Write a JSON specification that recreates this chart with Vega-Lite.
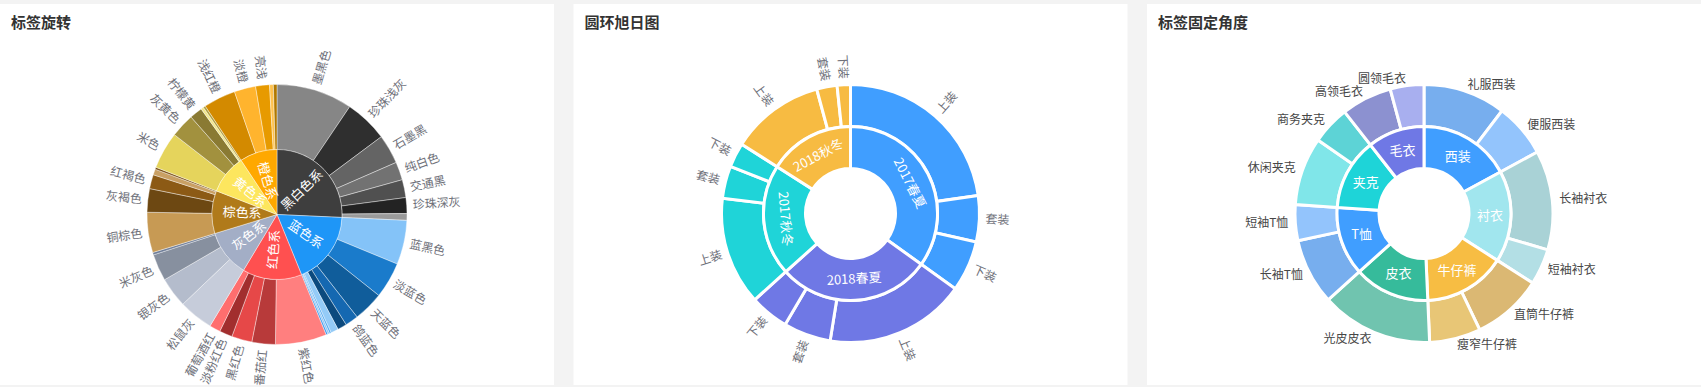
{
  "$schema": "https://vega.github.io/schema/vega-lite/v6.json",
  "background": "#f3f3f3",
  "padding": {"left": 0, "top": 4, "right": 0, "bottom": 0},
  "spacing": 19.5,
  "config": {
    "view": {"fill": "#ffffff", "stroke": null},
    "font": "Noto Sans CJK SC",
    "title": {"anchor": "start", "frame": "group", "offset": -27, "dx": 11, "fontSize": 15, "fontWeight": "bold", "color": "#333333"}
  },
  "resolve": {"scale": {"color": "independent", "theta": "independent"}},
  "datasets": {
    "c1": [
      {"i": 1, "p": "黑白色系", "n": "墨黑色", "v": 34, "k": "a1"},
      {"i": 2, "p": "黑白色系", "n": "珍珠浅灰", "v": 19.3, "k": "a2"},
      {"i": 3, "p": "黑白色系", "n": "石墨黑", "v": 13.1, "k": "a3"},
      {"i": 4, "p": "黑白色系", "n": "纯白色", "v": 8.1, "k": "a4"},
      {"i": 5, "p": "黑白色系", "n": "交通黑", "v": 8.0, "k": "a5"},
      {"i": 6, "p": "黑白色系", "n": "珍珠深灰", "v": 7.1, "k": "a6"},
      {"i": 7, "p": "黑白色系", "n": "", "v": 3.0, "k": "a7"},
      {"i": 8, "p": "蓝色系", "n": "蓝黑色", "v": 19.8, "k": "a8"},
      {"i": 9, "p": "蓝色系", "n": "淡蓝色", "v": 16.1, "k": "a9"},
      {"i": 10, "p": "蓝色系", "n": "天蓝色", "v": 13.5, "k": "a10"},
      {"i": 11, "p": "蓝色系", "n": "鸽蓝色", "v": 5.9, "k": "a11"},
      {"i": 12, "p": "蓝色系", "n": "", "v": 4.1, "k": "a12"},
      {"i": 13, "p": "蓝色系", "n": "", "v": 3.4, "k": "a13"},
      {"i": 14, "p": "蓝色系", "n": "", "v": 0.8, "k": "a14"},
      {"i": 15, "p": "蓝色系", "n": "", "v": 0.8, "k": "a15"},
      {"i": 16, "p": "蓝色系", "n": "", "v": 0.8, "k": "a16"},
      {"i": 17, "p": "红色系", "n": "紫红色", "v": 22.9, "k": "a17"},
      {"i": 18, "p": "红色系", "n": "番茄红", "v": 10.5, "k": "a18"},
      {"i": 19, "p": "红色系", "n": "黑红色", "v": 9.1, "k": "a19"},
      {"i": 20, "p": "红色系", "n": "淡粉红色", "v": 5.8, "k": "a20"},
      {"i": 21, "p": "红色系", "n": "葡萄酒红", "v": 4.9, "k": "a21"},
      {"i": 22, "p": "灰色系", "n": "松鼠灰", "v": 15.4, "k": "a22"},
      {"i": 23, "p": "灰色系", "n": "银灰色", "v": 13.5, "k": "a23"},
      {"i": 24, "p": "灰色系", "n": "米灰色", "v": 12.0, "k": "a24"},
      {"i": 25, "p": "灰色系", "n": "", "v": 1.1, "k": "a25"},
      {"i": 26, "p": "棕色系", "n": "铜棕色", "v": 18.0, "k": "a26"},
      {"i": 27, "p": "棕色系", "n": "灰褐色", "v": 10.5, "k": "a27"},
      {"i": 28, "p": "棕色系", "n": "红褐色", "v": 6.3, "k": "a28"},
      {"i": 29, "p": "棕色系", "n": "", "v": 2.6, "k": "a29"},
      {"i": 30, "p": "棕色系", "n": "", "v": 0.9, "k": "a30"},
      {"i": 31, "p": "黄色系", "n": "米色", "v": 16.6, "k": "a31"},
      {"i": 32, "p": "黄色系", "n": "灰黄色", "v": 10.7, "k": "a32"},
      {"i": 33, "p": "黄色系", "n": "柠檬黄", "v": 5.7, "k": "a33"},
      {"i": 34, "p": "黄色系", "n": "", "v": 1.2, "k": "a34"},
      {"i": 35, "p": "黄色系", "n": "", "v": 1.0, "k": "a35"},
      {"i": 36, "p": "橙色系", "n": "浅红橙", "v": 14.4, "k": "a36"},
      {"i": 37, "p": "橙色系", "n": "淡橙", "v": 9.6, "k": "a37"},
      {"i": 38, "p": "橙色系", "n": "亮浅", "v": 6.2, "k": "a38"},
      {"i": 39, "p": "橙色系", "n": "", "v": 1.7, "k": "a39"},
      {"i": 40, "p": "橙色系", "n": "", "v": 1.6, "k": "a40"}
    ],
    "c2": [
      {"i": 1, "p": "2017春夏", "n": "上装", "v": 82.0},
      {"i": 2, "p": "2017春夏", "n": "套装", "v": 20.8},
      {"i": 3, "p": "2017春夏", "n": "下装", "v": 22.9},
      {"i": 4, "p": "2018春夏", "n": "上装", "v": 63.4},
      {"i": 5, "p": "2018春夏", "n": "套装", "v": 21.4},
      {"i": 6, "p": "2018春夏", "n": "下装", "v": 17.5},
      {"i": 7, "p": "2017秋冬", "n": "上装", "v": 48.8},
      {"i": 8, "p": "2017秋冬", "n": "套装", "v": 14.6},
      {"i": 9, "p": "2017秋冬", "n": "下装", "v": 11.1},
      {"i": 10, "p": "2018秋冬", "n": "上装", "v": 42.3},
      {"i": 11, "p": "2018秋冬", "n": "套装", "v": 9.2},
      {"i": 12, "p": "2018秋冬", "n": "下装", "v": 6.0}
    ],
    "c3": [
      {"i": 1, "p": "西装", "n": "礼服西装", "v": 37.2},
      {"i": 2, "p": "西装", "n": "便服西装", "v": 24.3},
      {"i": 3, "p": "衬衣", "n": "长袖衬衣", "v": 44.9},
      {"i": 4, "p": "衬衣", "n": "短袖衬衣", "v": 16.2},
      {"i": 5, "p": "牛仔裤", "n": "直筒牛仔裤", "v": 31.8},
      {"i": 6, "p": "牛仔裤", "n": "瘦窄牛仔裤", "v": 23.1},
      {"i": 7, "p": "皮衣", "n": "光皮皮衣", "v": 50.5},
      {"i": 8, "p": "T恤", "n": "长袖T恤", "v": 29.8},
      {"i": 9, "p": "T恤", "n": "短袖T恤", "v": 16.2},
      {"i": 10, "p": "夹克", "n": "休闲夹克", "v": 30.7},
      {"i": 11, "p": "夹克", "n": "商务夹克", "v": 17.3},
      {"i": 12, "p": "毛衣", "n": "高领毛衣", "v": 22.8},
      {"i": 13, "p": "毛衣", "n": "圆领毛衣", "v": 15.2}
    ]
  },
  "hconcat": [
    {
      "width": 554, "height": 381,
      "view": {"fill": "#ffffff", "stroke": null},
      "title": "标签旋转",
      "data": {"name": "c1"},
      "transform": [
        {"window": [{"op": "sum", "field": "v", "as": "cum"}], "sort": [{"field": "i"}]},
        {"joinaggregate": [{"op": "sum", "field": "v", "as": "tot"}]},
        {"calculate": "(datum.cum - datum.v) / datum.tot * 360", "as": "t0"},
        {"calculate": "datum.cum / datum.tot * 360", "as": "t1"},
        {"calculate": "(datum.t0 + datum.t1) / 2", "as": "mid"}
      ],
      "layer": [
        {
          "mark": {"type": "arc", "innerRadius": 65, "outerRadius": 130, "stroke": "#ffffff", "strokeWidth": 0.4, "y": {"expr": "height/2 + 20"}},
          "encoding": {
            "theta": {"field": "t0", "type": "quantitative", "stack": null, "scale": {"domain": [0, 360]}},
            "theta2": {"field": "t1"},
            "color": {
              "field": "k", "type": "nominal", "legend": null,
              "scale": {
                "domain": ["a1","a2","a3","a4","a5","a6","a7","a8","a9","a10","a11","a12","a13","a14","a15","a16","a17","a18","a19","a20","a21","a22","a23","a24","a25","a26","a27","a28","a29","a30","a31","a32","a33","a34","a35","a36","a37","a38","a39","a40","黑白色系","蓝色系","红色系","灰色系","棕色系","黄色系","橙色系"],
                "range": ["#868686","#2f2f2f","#646464","#727272","#505050","#232323","#9a9a9a","#84c3f8","#1a7bcb","#105d9b","#1568b1","#0c4a7e","#94cbf7","#4fa8f0","#8ac4f5","#3a9bf0","#ff7f7f","#b83a3a","#e64848","#a22e2e","#ff6e6e","#c6ccda","#b4bccc","#87909f","#6f7e99","#c79a54","#6d4812","#8c5a15","#c9a064","#7b5115","#e5d45c","#a2913e","#8a7a33","#f2e68c","#b0a040","#d38a00","#ffb42e","#e79a00","#ffc24e","#b07800","#3e3e3e","#1e96f7","#ff5050","#a3aec6","#b07a1a","#fde65e","#ffa800"]
              }
            }
          }
        },
        {
          "transform": [
            {"aggregate": [{"op": "min", "field": "t0", "as": "t0"}, {"op": "max", "field": "t1", "as": "t1"}], "groupby": ["p"]}
          ],
          "mark": {"type": "arc", "innerRadius": 0, "outerRadius": 65, "stroke": "#ffffff", "strokeWidth": 0.4, "y": {"expr": "height/2 + 20"}},
          "encoding": {
            "theta": {"field": "t0", "type": "quantitative", "stack": null, "scale": {"domain": [0, 360]}},
            "theta2": {"field": "t1"},
            "color": {"field": "p", "type": "nominal", "legend": null}
          }
        },
        {
          "transform": [
            {"calculate": "datum.mid < 180 ? datum.mid - 90 : datum.mid + 90", "as": "ang"}
          ],
          "mark": {"type": "text", "radius": 136, "baseline": "middle", "fontSize": 12, "fill": "#6e7079", "align": {"expr": "datum.mid < 180 ? 'left' : 'right'"}, "y": {"expr": "height/2 + 20"}},
          "encoding": {
            "theta": {"field": "mid", "type": "quantitative", "stack": null, "scale": {"domain": [0, 360]}},
            "angle": {"field": "ang", "type": "quantitative", "scale": null},
            "text": {"field": "n"}
          }
        },
        {
          "transform": [
            {"aggregate": [{"op": "min", "field": "t0", "as": "t0"}, {"op": "max", "field": "t1", "as": "t1"}], "groupby": ["p"]},
            {"calculate": "(datum.t0 + datum.t1) / 2", "as": "mid"},
            {"calculate": "datum.mid < 180 ? datum.mid - 90 : datum.mid + 90", "as": "ang"}
          ],
          "mark": {"type": "text", "radius": 35, "align": "center", "baseline": "middle", "fontSize": 13, "fill": "#ffffff", "y": {"expr": "height/2 + 20"}},
          "encoding": {
            "theta": {"field": "mid", "type": "quantitative", "stack": null, "scale": {"domain": [0, 360]}},
            "angle": {"field": "ang", "type": "quantitative", "scale": null},
            "text": {"field": "p"}
          }
        }
      ]
    },
    {
      "width": 554, "height": 381,
      "view": {"fill": "#ffffff", "stroke": null},
      "title": "圆环旭日图",
      "data": {"name": "c2"},
      "transform": [
        {"window": [{"op": "sum", "field": "v", "as": "cum"}], "sort": [{"field": "i"}]},
        {"joinaggregate": [{"op": "sum", "field": "v", "as": "tot"}]},
        {"calculate": "(datum.cum - datum.v) / datum.tot * 360", "as": "t0"},
        {"calculate": "datum.cum / datum.tot * 360", "as": "t1"},
        {"calculate": "(datum.t0 + datum.t1) / 2", "as": "mid"}
      ],
      "layer": [
        {
          "mark": {"type": "arc", "innerRadius": 87, "outerRadius": 129, "stroke": "#ffffff", "strokeWidth": 3, "y": {"expr": "height/2 + 19"}},
          "encoding": {
            "theta": {"field": "t0", "type": "quantitative", "stack": null, "scale": {"domain": [0, 360]}},
            "theta2": {"field": "t1"},
            "color": {
              "field": "p", "type": "nominal", "legend": null,
              "scale": {"domain": ["2017春夏", "2018春夏", "2017秋冬", "2018秋冬"], "range": ["#409eff", "#6f78e5", "#1fd4d8", "#f7bb42"]}
            }
          }
        },
        {
          "transform": [
            {"aggregate": [{"op": "min", "field": "t0", "as": "t0"}, {"op": "max", "field": "t1", "as": "t1"}], "groupby": ["p"]}
          ],
          "mark": {"type": "arc", "innerRadius": 45, "outerRadius": 87, "stroke": "#ffffff", "strokeWidth": 3, "y": {"expr": "height/2 + 19"}},
          "encoding": {
            "theta": {"field": "t0", "type": "quantitative", "stack": null, "scale": {"domain": [0, 360]}},
            "theta2": {"field": "t1"},
            "color": {"field": "p", "type": "nominal", "legend": null}
          }
        },
        {
          "transform": [
            {"calculate": "datum.mid < 180 ? datum.mid - 90 : datum.mid + 90", "as": "ang"}
          ],
          "mark": {"type": "text", "radius": 135, "baseline": "middle", "fontSize": 12, "fill": "#6e7079", "align": {"expr": "datum.mid < 180 ? 'left' : 'right'"}, "y": {"expr": "height/2 + 19"}},
          "encoding": {
            "theta": {"field": "mid", "type": "quantitative", "stack": null, "scale": {"domain": [0, 360]}},
            "angle": {"field": "ang", "type": "quantitative", "scale": null},
            "text": {"field": "n"}
          }
        },
        {
          "transform": [
            {"aggregate": [{"op": "min", "field": "t0", "as": "t0"}, {"op": "max", "field": "t1", "as": "t1"}], "groupby": ["p"]},
            {"calculate": "(datum.t0 + datum.t1) / 2", "as": "mid"},
            {"calculate": "(datum.mid > 90 && datum.mid < 270) ? datum.mid - 180 : datum.mid", "as": "ang"}
          ],
          "mark": {"type": "text", "radius": 66, "align": "center", "baseline": "middle", "fontSize": 13, "fill": "#ffffff", "y": {"expr": "height/2 + 19"}},
          "encoding": {
            "theta": {"field": "mid", "type": "quantitative", "stack": null, "scale": {"domain": [0, 360]}},
            "angle": {"field": "ang", "type": "quantitative", "scale": null},
            "text": {"field": "p"}
          }
        }
      ]
    },
    {
      "width": 554, "height": 381,
      "view": {"fill": "#ffffff", "stroke": null},
      "title": "标签固定角度",
      "data": {"name": "c3"},
      "transform": [
        {"window": [{"op": "sum", "field": "v", "as": "cum"}], "sort": [{"field": "i"}]},
        {"joinaggregate": [{"op": "sum", "field": "v", "as": "tot"}]},
        {"calculate": "(datum.cum - datum.v) / datum.tot * 360", "as": "t0"},
        {"calculate": "datum.cum / datum.tot * 360", "as": "t1"},
        {"calculate": "(datum.t0 + datum.t1) / 2", "as": "mid"}
      ],
      "layer": [
        {
          "mark": {"type": "arc", "innerRadius": 87, "outerRadius": 129, "stroke": "#ffffff", "strokeWidth": 3, "y": {"expr": "height/2 + 19"}},
          "encoding": {
            "theta": {"field": "t0", "type": "quantitative", "stack": null, "scale": {"domain": [0, 360]}},
            "theta2": {"field": "t1"},
            "color": {
              "field": "n", "type": "nominal", "legend": null,
              "scale": {
                "domain": ["礼服西装","便服西装","长袖衬衣","短袖衬衣","直筒牛仔裤","瘦窄牛仔裤","光皮皮衣","长袖T恤","短袖T恤","休闲夹克","商务夹克","高领毛衣","圆领毛衣","西装","衬衣","牛仔裤","皮衣","T恤","夹克","毛衣"],
                "range": ["#77aeee","#93c4fc","#a9d2d6","#b3dfe5","#dbb873","#e8c676","#70c4af","#77aeee","#93c4fc","#80e6e9","#5dd3d6","#8c91d0","#a8afef","#409eff","#a1e6ee","#f7bd43","#36bb9b","#409eff","#1ed4d8","#6f78e5"]
              }
            }
          }
        },
        {
          "transform": [
            {"aggregate": [{"op": "min", "field": "t0", "as": "t0"}, {"op": "max", "field": "t1", "as": "t1"}], "groupby": ["p"]}
          ],
          "mark": {"type": "arc", "innerRadius": 45, "outerRadius": 87, "stroke": "#ffffff", "strokeWidth": 3, "y": {"expr": "height/2 + 19"}},
          "encoding": {
            "theta": {"field": "t0", "type": "quantitative", "stack": null, "scale": {"domain": [0, 360]}},
            "theta2": {"field": "t1"},
            "color": {"field": "p", "type": "nominal", "legend": null}
          }
        },
        {
          "mark": {"type": "text", "radius": 136, "baseline": "middle", "fontSize": 12, "fill": "#464646", "align": {"expr": "datum.mid < 180 ? 'left' : 'right'"}, "y": {"expr": "height/2 + 19"}},
          "encoding": {
            "theta": {"field": "mid", "type": "quantitative", "stack": null, "scale": {"domain": [0, 360]}},
            "text": {"field": "n"}
          }
        },
        {
          "transform": [
            {"aggregate": [{"op": "min", "field": "t0", "as": "t0"}, {"op": "max", "field": "t1", "as": "t1"}], "groupby": ["p"]},
            {"calculate": "(datum.t0 + datum.t1) / 2", "as": "mid"}
          ],
          "mark": {"type": "text", "radius": 66, "align": "center", "baseline": "middle", "fontSize": 13, "fill": "#ffffff", "y": {"expr": "height/2 + 19"}},
          "encoding": {
            "theta": {"field": "mid", "type": "quantitative", "stack": null, "scale": {"domain": [0, 360]}},
            "text": {"field": "p"}
          }
        }
      ]
    }
  ]
}
